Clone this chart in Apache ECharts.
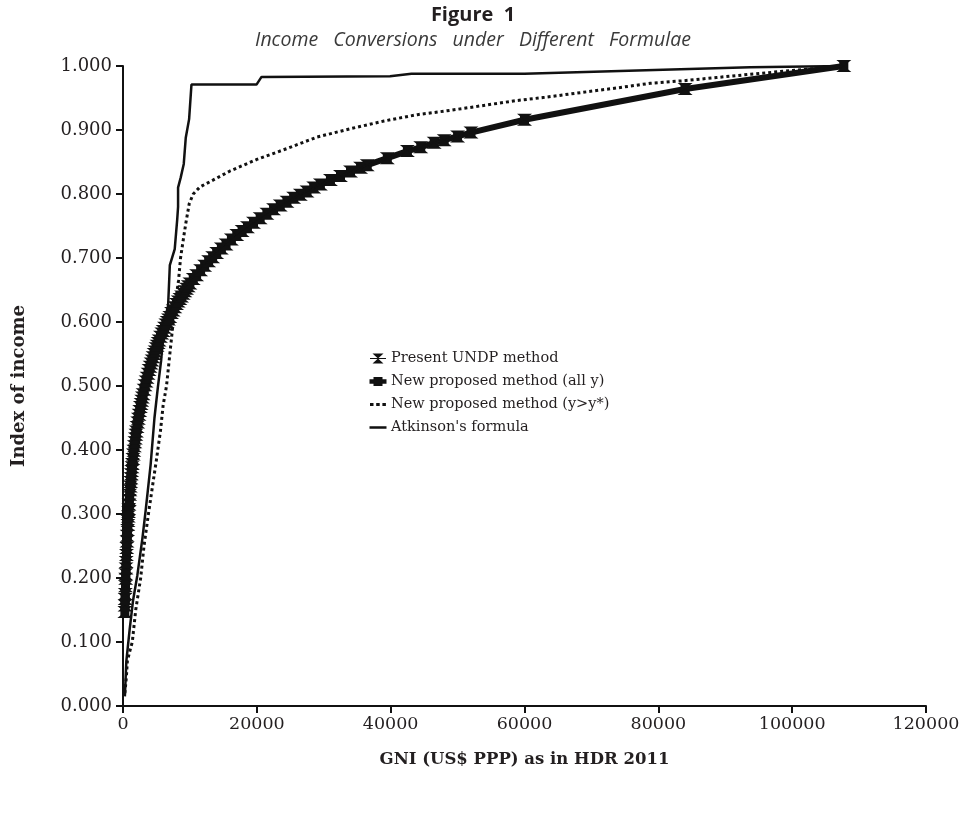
<!DOCTYPE html>
<html>
<head>
<meta charset="utf-8">
<script src="https://cdn.jsdelivr.net/npm/echarts@6/dist/echarts.min.js"></script>
<style>
html,body{margin:0;padding:0;background:#fff;}
#chart{width:968px;height:826px;}
</style>
</head>
<body>
<div id="chart"></div>
<script>
// ---- Data ----
const xTicks = [0, 20000, 40000, 60000, 80000, 100000, 120000];
const yTicks = [0, 0.1, 0.2, 0.3, 0.4, 0.5, 0.6, 0.7, 0.8, 0.9, 1.0];

// GNI per country (US$ PPP)
const gni = [280,300,320,340,370,400,420,450,480,520,560,600,640,680,720,750,790,830,860,900,950,1000,1050,1100,1150,1200,1250,1300,1350,1400,1480,1550,1620,1700,1780,1850,1930,2000,2100,2200,2300,2400,2500,2600,2700,2800,2900,3000,3150,3300,3450,3600,3750,3900,4050,4200,4350,4500,4650,4800,4950,5100,5250,5400,5600,5800,6000,6200,6400,6600,6800,7000,7250,7500,7750,8000,8250,8500,8750,9000,9250,9500,9750,10000,10500,11000,11600,12200,12800,13400,14000,14700,15400,16200,17000,17800,18600,19500,20500,21500,22500,23500,24500,25500,26500,27500,28500,29500,31000,32500,34000,35500,36500,39500,42500,44500,46500,48000,50000,52000,60000,84000,107721];

// Present UNDP method index
const undp = [0.147,0.157,0.167,0.175,0.187,0.199,0.206,0.215,0.225,0.236,0.247,0.257,0.266,0.275,0.283,0.289,0.296,0.303,0.308,0.315,0.322,0.330,0.337,0.343,0.350,0.356,0.362,0.367,0.373,0.378,0.386,0.393,0.399,0.406,0.412,0.418,0.424,0.429,0.436,0.443,0.449,0.455,0.461,0.467,0.472,0.477,0.482,0.487,0.494,0.501,0.507,0.513,0.519,0.525,0.530,0.535,0.540,0.545,0.550,0.554,0.559,0.563,0.567,0.571,0.577,0.582,0.586,0.591,0.596,0.600,0.604,0.608,0.614,0.618,0.623,0.628,0.632,0.636,0.640,0.644,0.648,0.652,0.656,0.660,0.667,0.673,0.681,0.688,0.695,0.701,0.708,0.715,0.721,0.729,0.736,0.742,0.748,0.755,0.762,0.769,0.776,0.782,0.788,0.794,0.799,0.804,0.810,0.815,0.822,0.828,0.835,0.841,0.845,0.856,0.867,0.873,0.880,0.884,0.890,0.896,0.916,0.964,1.000];

// New proposed method (all y) — coincides with the UNDP curve in the picture
const allY = [0.147,0.157,0.167,0.175,0.187,0.199,0.206,0.215,0.225,0.236,0.247,0.257,0.266,0.275,0.283,0.289,0.296,0.303,0.308,0.315,0.322,0.330,0.337,0.343,0.350,0.356,0.362,0.367,0.373,0.378,0.386,0.393,0.399,0.406,0.412,0.418,0.424,0.429,0.436,0.443,0.449,0.455,0.461,0.467,0.472,0.477,0.482,0.487,0.494,0.501,0.507,0.513,0.519,0.525,0.530,0.535,0.540,0.545,0.550,0.554,0.559,0.563,0.567,0.571,0.577,0.582,0.586,0.591,0.596,0.600,0.604,0.608,0.614,0.618,0.623,0.628,0.632,0.636,0.640,0.644,0.648,0.652,0.656,0.660,0.667,0.673,0.681,0.688,0.695,0.701,0.708,0.715,0.721,0.729,0.736,0.742,0.748,0.755,0.762,0.769,0.776,0.782,0.788,0.794,0.799,0.804,0.810,0.815,0.822,0.828,0.835,0.841,0.845,0.856,0.867,0.873,0.880,0.884,0.890,0.896,0.916,0.964,1.000];

// New proposed method (y>y*)
const dotGni = [280,500,650,1000,1390,1900,2640,3140,3800,4500,5000,5600,6000,6500,6900,7300,7700,8300,8600,9100,9400,9900,10500,11500,13500,16000,20000,24500,29000,34000,39000,44000,48400,53000,58800,63000,68800,74000,78800,83800,88700,93700,100000,107721];
const dotVal = [0.020,0.045,0.070,0.085,0.100,0.150,0.200,0.250,0.300,0.350,0.385,0.430,0.470,0.500,0.540,0.580,0.620,0.665,0.700,0.735,0.755,0.785,0.800,0.811,0.822,0.836,0.854,0.871,0.889,0.902,0.914,0.924,0.930,0.937,0.946,0.951,0.959,0.966,0.973,0.977,0.982,0.987,0.993,1.000];

// Atkinson's formula
const atkGni = [280,500,1000,1490,2140,2900,3400,4130,4700,5200,5700,6240,6740,7000,7730,8100,8230,8230,8630,9080,9380,9880,10230,19950,20700,39900,43100,60000,93700,107721];
const atkVal = [0.015,0.070,0.120,0.164,0.204,0.262,0.307,0.377,0.450,0.497,0.540,0.605,0.625,0.689,0.714,0.760,0.780,0.810,0.826,0.847,0.888,0.917,0.971,0.971,0.983,0.984,0.988,0.988,0.998,1.000];

const seriesNames = ['Present UNDP method','New proposed method (all y)','New proposed method (y>y*)',"Atkinson's formula"];

const pair = (xs, ys) => xs.map((x, i) => [x, ys[i]]);
const hourglass = 'path://M0,0 L12,0 L6,5 L12,10 L0,10 L6,5 Z';
const ink = '#111';
const txt = '#231f20';
const serif = '"DejaVu Serif", serif';

// legend icons (18x12 box; tiny corner points fix the box)
const box = 'M0,0 L0.01,0 L0.01,0.01 Z M18,12 L17.99,12 L17.99,11.99 Z ';
const iconUndp = 'path://' + box + 'M1,5.4 L17,5.4 L17,6.6 L1,6.6 Z M3.5,1 L14.5,1 L9,6 L14.5,11 L3.5,11 L9,6 Z';
const iconAllY = 'path://' + box + 'M0.5,3.8 L17.5,3.8 L17.5,8.2 L0.5,8.2 Z M4.5,1.5 L13.5,1.5 L13.5,10.5 L4.5,10.5 Z';
const iconDot = 'path://' + box + 'M1,4.5 L4.5,4.5 L4.5,7.5 L1,7.5 Z M7.2,4.5 L10.7,4.5 L10.7,7.5 L7.2,7.5 Z M13.4,4.5 L16.9,4.5 L16.9,7.5 L13.4,7.5 Z';
const iconAtk = 'path://' + box + 'M0.5,4.8 L17.5,4.8 L17.5,7.2 L0.5,7.2 Z';

const chart = echarts.init(document.getElementById('chart'), null, {renderer: 'canvas'});
chart.setOption({
  animation: false,
  backgroundColor: '#fff',
  title: [
    {text: 'Figure  1', left: 468, top: 0, textAlign: 'center',
     textStyle: {fontFamily: '"Open Sans"', fontWeight: 'bold', fontSize: 20, color: txt}},
    {text: 'Income   Conversions   under   Different   Formulae', left: 468, top: 25, textAlign: 'center',
     textStyle: {fontFamily: '"Open Sans"', fontStyle: 'italic', fontWeight: 'normal', fontSize: 19.5, color: '#3a3a3a'}}
  ],
  legend: {
    orient: 'vertical', left: 364, top: 346, itemGap: 8, itemWidth: 18, itemHeight: 12,
    symbolKeepAspect: true,
    itemStyle: {borderWidth: 0},
    data: [
      {name: seriesNames[0], icon: iconUndp},
      {name: seriesNames[1], icon: iconAllY},
      {name: seriesNames[2], icon: iconDot},
      {name: seriesNames[3], icon: iconAtk}
    ],
    textStyle: {fontFamily: serif, fontSize: 14.5, color: txt, padding: [0, 0, 0, -1]},
    inactiveColor: '#ccc'
  },
  grid: {left: 123, right: 42, top: 66, bottom: 120, containLabel: false},
  xAxis: {
    type: 'value', min: 0, max: 120000, interval: 20000,
    name: 'GNI (US$ PPP) as in HDR 2011', nameLocation: 'middle', nameGap: 45,
    nameTextStyle: {fontFamily: serif, fontWeight: 'bold', fontSize: 16.5, color: txt},
    axisLine: {show: true, lineStyle: {color: ink, width: 2}},
    axisTick: {show: true, length: 7, lineStyle: {color: ink, width: 2}},
    axisLabel: {fontFamily: serif, fontSize: 17.5, color: txt, margin: 9,
      formatter: v => String(v)},
    splitLine: {show: false}
  },
  yAxis: {
    type: 'value', min: 0, max: 1, interval: 0.1,
    name: 'Index of income', nameLocation: 'middle', nameGap: 95,
    nameTextStyle: {fontFamily: serif, fontWeight: 'bold', fontSize: 18, color: txt},
    axisLine: {show: true, lineStyle: {color: ink, width: 2}},
    axisTick: {show: true, length: 7, lineStyle: {color: ink, width: 2}},
    axisLabel: {fontFamily: serif, fontSize: 18, color: txt, margin: 11,
      formatter: v => v.toFixed(3)},
    splitLine: {show: false}
  },
  series: [
    {
      name: seriesNames[0], type: 'line', data: pair(gni, undp), z: 4,
      symbol: hourglass, symbolSize: [15, 12], showAllSymbol: true,
      lineStyle: {color: ink, width: 1.5}, itemStyle: {color: ink, borderWidth: 0}
    },
    {
      name: seriesNames[1], type: 'line', data: pair(gni, allY), z: 3,
      symbol: 'rect', symbolSize: [9, 9], showAllSymbol: true,
      lineStyle: {color: ink, width: 6}, itemStyle: {color: ink, borderWidth: 0}
    },
    {
      name: seriesNames[2], type: 'line', data: pair(dotGni, dotVal), z: 2,
      symbol: 'none',
      lineStyle: {color: ink, width: 3, type: [3, 3]}, itemStyle: {color: ink, borderWidth: 0}
    },
    {
      name: seriesNames[3], type: 'line', data: pair(atkGni, atkVal), z: 2,
      symbol: 'none',
      lineStyle: {color: ink, width: 2.5}, itemStyle: {color: ink, borderWidth: 0}
    }
  ]
});
</script>
</body>
</html>
